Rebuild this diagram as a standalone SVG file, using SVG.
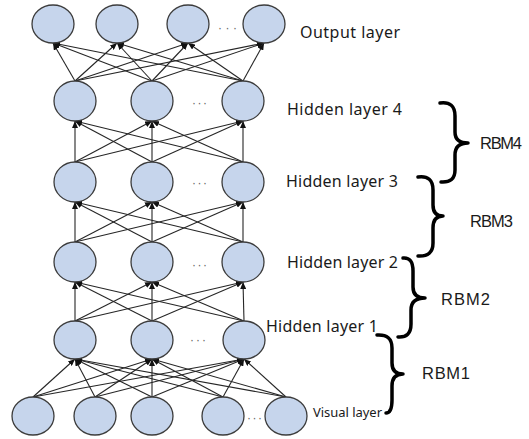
<svg xmlns="http://www.w3.org/2000/svg" width="529" height="439" viewBox="0 0 529 439">
<style>
.node{fill:#c6d5ec;stroke:#3c3c3c;stroke-width:1.3}
.edge{stroke:#262626;stroke-width:1.1;fill:none;marker-end:url(#arr)}
.lbl{font-family:"Noto Sans","Open Sans",sans-serif;font-size:16px;fill:#1a1a1a}
.rbm{font-family:"Liberation Sans",Arial,sans-serif;font-size:16.5px;fill:#1a1a1a}
.dots{font-family:"Liberation Sans",Arial,sans-serif;font-size:12px;fill:#666}
.brace{fill:none;stroke:#000;stroke-width:3.5;stroke-linecap:round;stroke-linejoin:round}
</style>
<defs>
<marker id="arr" viewBox="0 0 7 6" refX="7" refY="3" markerWidth="7" markerHeight="6" markerUnits="userSpaceOnUse" orient="auto">
<path d="M0,0 L7,3 L0,6 z" fill="#111"/>
</marker>
</defs>
<g id="connectors">
<line class="edge" x1="33" y1="397" x2="75" y2="359"/>
<line class="edge" x1="33" y1="397" x2="152" y2="359"/>
<line class="edge" x1="33" y1="397" x2="244" y2="359"/>
<line class="edge" x1="95" y1="397" x2="75" y2="359"/>
<line class="edge" x1="95" y1="397" x2="152" y2="359"/>
<line class="edge" x1="95" y1="397" x2="244" y2="359"/>
<line class="edge" x1="152" y1="397" x2="75" y2="359"/>
<line class="edge" x1="152" y1="397" x2="152" y2="359"/>
<line class="edge" x1="152" y1="397" x2="244" y2="359"/>
<line class="edge" x1="223" y1="397" x2="75" y2="359"/>
<line class="edge" x1="223" y1="397" x2="152" y2="359"/>
<line class="edge" x1="223" y1="397" x2="244" y2="359"/>
<line class="edge" x1="286" y1="397" x2="75" y2="359"/>
<line class="edge" x1="286" y1="397" x2="152" y2="359"/>
<line class="edge" x1="286" y1="397" x2="244" y2="359"/>

<line class="edge" x1="75" y1="321" x2="75" y2="282"/>
<line class="edge" x1="75" y1="321" x2="152" y2="282"/>
<line class="edge" x1="75" y1="321" x2="243" y2="282"/>
<line class="edge" x1="152" y1="321" x2="75" y2="282"/>
<line class="edge" x1="152" y1="321" x2="152" y2="282"/>
<line class="edge" x1="152" y1="321" x2="243" y2="282"/>
<line class="edge" x1="244" y1="321" x2="75" y2="282"/>
<line class="edge" x1="244" y1="321" x2="152" y2="282"/>
<line class="edge" x1="244" y1="321" x2="243" y2="282"/>

<line class="edge" x1="75" y1="242" x2="75" y2="202"/>
<line class="edge" x1="75" y1="242" x2="152" y2="202"/>
<line class="edge" x1="75" y1="242" x2="243" y2="202"/>
<line class="edge" x1="152" y1="242" x2="75" y2="202"/>
<line class="edge" x1="152" y1="242" x2="152" y2="202"/>
<line class="edge" x1="152" y1="242" x2="243" y2="202"/>
<line class="edge" x1="243" y1="242" x2="75" y2="202"/>
<line class="edge" x1="243" y1="242" x2="152" y2="202"/>
<line class="edge" x1="243" y1="242" x2="243" y2="202"/>

<line class="edge" x1="75" y1="162" x2="75" y2="121"/>
<line class="edge" x1="75" y1="162" x2="152" y2="121"/>
<line class="edge" x1="75" y1="162" x2="243" y2="121"/>
<line class="edge" x1="152" y1="162" x2="75" y2="121"/>
<line class="edge" x1="152" y1="162" x2="152" y2="121"/>
<line class="edge" x1="152" y1="162" x2="243" y2="121"/>
<line class="edge" x1="243" y1="162" x2="75" y2="121"/>
<line class="edge" x1="243" y1="162" x2="152" y2="121"/>
<line class="edge" x1="243" y1="162" x2="243" y2="121"/>

<line class="edge" x1="75" y1="81" x2="53" y2="43"/>
<line class="edge" x1="75" y1="81" x2="117" y2="43"/>
<line class="edge" x1="75" y1="81" x2="188" y2="43"/>
<line class="edge" x1="75" y1="81" x2="264" y2="43"/>
<line class="edge" x1="152" y1="81" x2="53" y2="43"/>
<line class="edge" x1="152" y1="81" x2="117" y2="43"/>
<line class="edge" x1="152" y1="81" x2="188" y2="43"/>
<line class="edge" x1="152" y1="81" x2="264" y2="43"/>
<line class="edge" x1="243" y1="81" x2="53" y2="43"/>
<line class="edge" x1="243" y1="81" x2="117" y2="43"/>
<line class="edge" x1="243" y1="81" x2="188" y2="43"/>
<line class="edge" x1="243" y1="81" x2="264" y2="43"/>
</g>

<g id="output-layer">
<ellipse class="node" cx="53" cy="24" rx="21" ry="19"/>
<ellipse class="node" cx="117" cy="24" rx="21" ry="19"/>
<ellipse class="node" cx="188" cy="24" rx="21" ry="19"/>
<ellipse class="node" cx="264" cy="24" rx="21" ry="19"/>
<text class="dots" x="218" y="32" textLength="19">···</text>
<text class="lbl" x="300" y="38" textLength="100">Output layer</text>
</g>
<g id="hidden-layer-4">
<ellipse class="node" cx="75" cy="101" rx="21" ry="20"/>
<ellipse class="node" cx="152" cy="101" rx="21" ry="20"/>
<ellipse class="node" cx="243" cy="101" rx="21" ry="20"/>
<text class="dots" x="192" y="107" textLength="15">···</text>
<text class="lbl" x="287" y="115" textLength="115">Hidden layer 4</text>
</g>
<g id="hidden-layer-3">
<ellipse class="node" cx="75" cy="182" rx="21" ry="20"/>
<ellipse class="node" cx="152" cy="182" rx="21" ry="20"/>
<ellipse class="node" cx="243" cy="182" rx="21" ry="20"/>
<text class="dots" x="192" y="187" textLength="15">···</text>
<text class="lbl" x="286" y="187" textLength="112">Hidden layer 3</text>
</g>
<g id="hidden-layer-2">
<ellipse class="node" cx="75" cy="262" rx="21" ry="20"/>
<ellipse class="node" cx="152" cy="262" rx="21" ry="20"/>
<ellipse class="node" cx="243" cy="262" rx="21" ry="20"/>
<text class="dots" x="192" y="269" textLength="15">···</text>
<text class="lbl" x="287" y="268" textLength="111">Hidden layer 2</text>
</g>
<g id="hidden-layer-1">
<ellipse class="node" cx="75" cy="340" rx="21" ry="19"/>
<ellipse class="node" cx="152" cy="340" rx="21" ry="19"/>
<ellipse class="node" cx="244" cy="340" rx="21" ry="19"/>
<text class="dots" x="190" y="344" textLength="16">···</text>
<text class="lbl" x="266" y="332" textLength="112">Hidden layer 1</text>
</g>
<g id="visual-layer">
<ellipse class="node" cx="33" cy="416" rx="21" ry="19"/>
<ellipse class="node" cx="95" cy="416" rx="21" ry="19"/>
<ellipse class="node" cx="152" cy="416" rx="21" ry="19"/>
<ellipse class="node" cx="223" cy="416" rx="21" ry="19"/>
<ellipse class="node" cx="286" cy="416" rx="21" ry="19"/>
<text class="dots" x="247" y="422" textLength="15">···</text>
<text class="lbl" x="313" y="417" style="font-size:13px" textLength="69">Visual layer</text>
</g>

<g id="rbm4">
<path class="brace" d="M440,103 Q455,101 455,116 L455,132 Q455,143 468,143 Q455,143 455,155 L455,170 Q455,183 441,182"/>
<text class="rbm" x="480" y="149" textLength="42">RBM4</text>
</g>
<g id="rbm3">
<path class="brace" d="M418,177 Q433,175 433,190 L433,205 Q433,216 443,216 Q433,216 433,228 L433,243 Q433,257 418,256"/>
<text class="rbm" x="470" y="227" textLength="43">RBM3</text>
</g>
<g id="rbm2">
<path class="brace" d="M403,258 Q413,257 413,271 L413,287 Q413,298 425,298 Q411,298 411,310 L411,324 Q411,338 398,337"/>
<text class="rbm" x="441" y="305" textLength="49">RBM2</text>
</g>
<g id="rbm1">
<path class="brace" d="M377,335 Q392,334 392,348 L392,363 Q392,374 403,374 Q392,374 392,386 L392,400 Q392,413 386,413"/>
<text class="rbm" x="422" y="379" textLength="48">RBM1</text>
</g>
</svg>
